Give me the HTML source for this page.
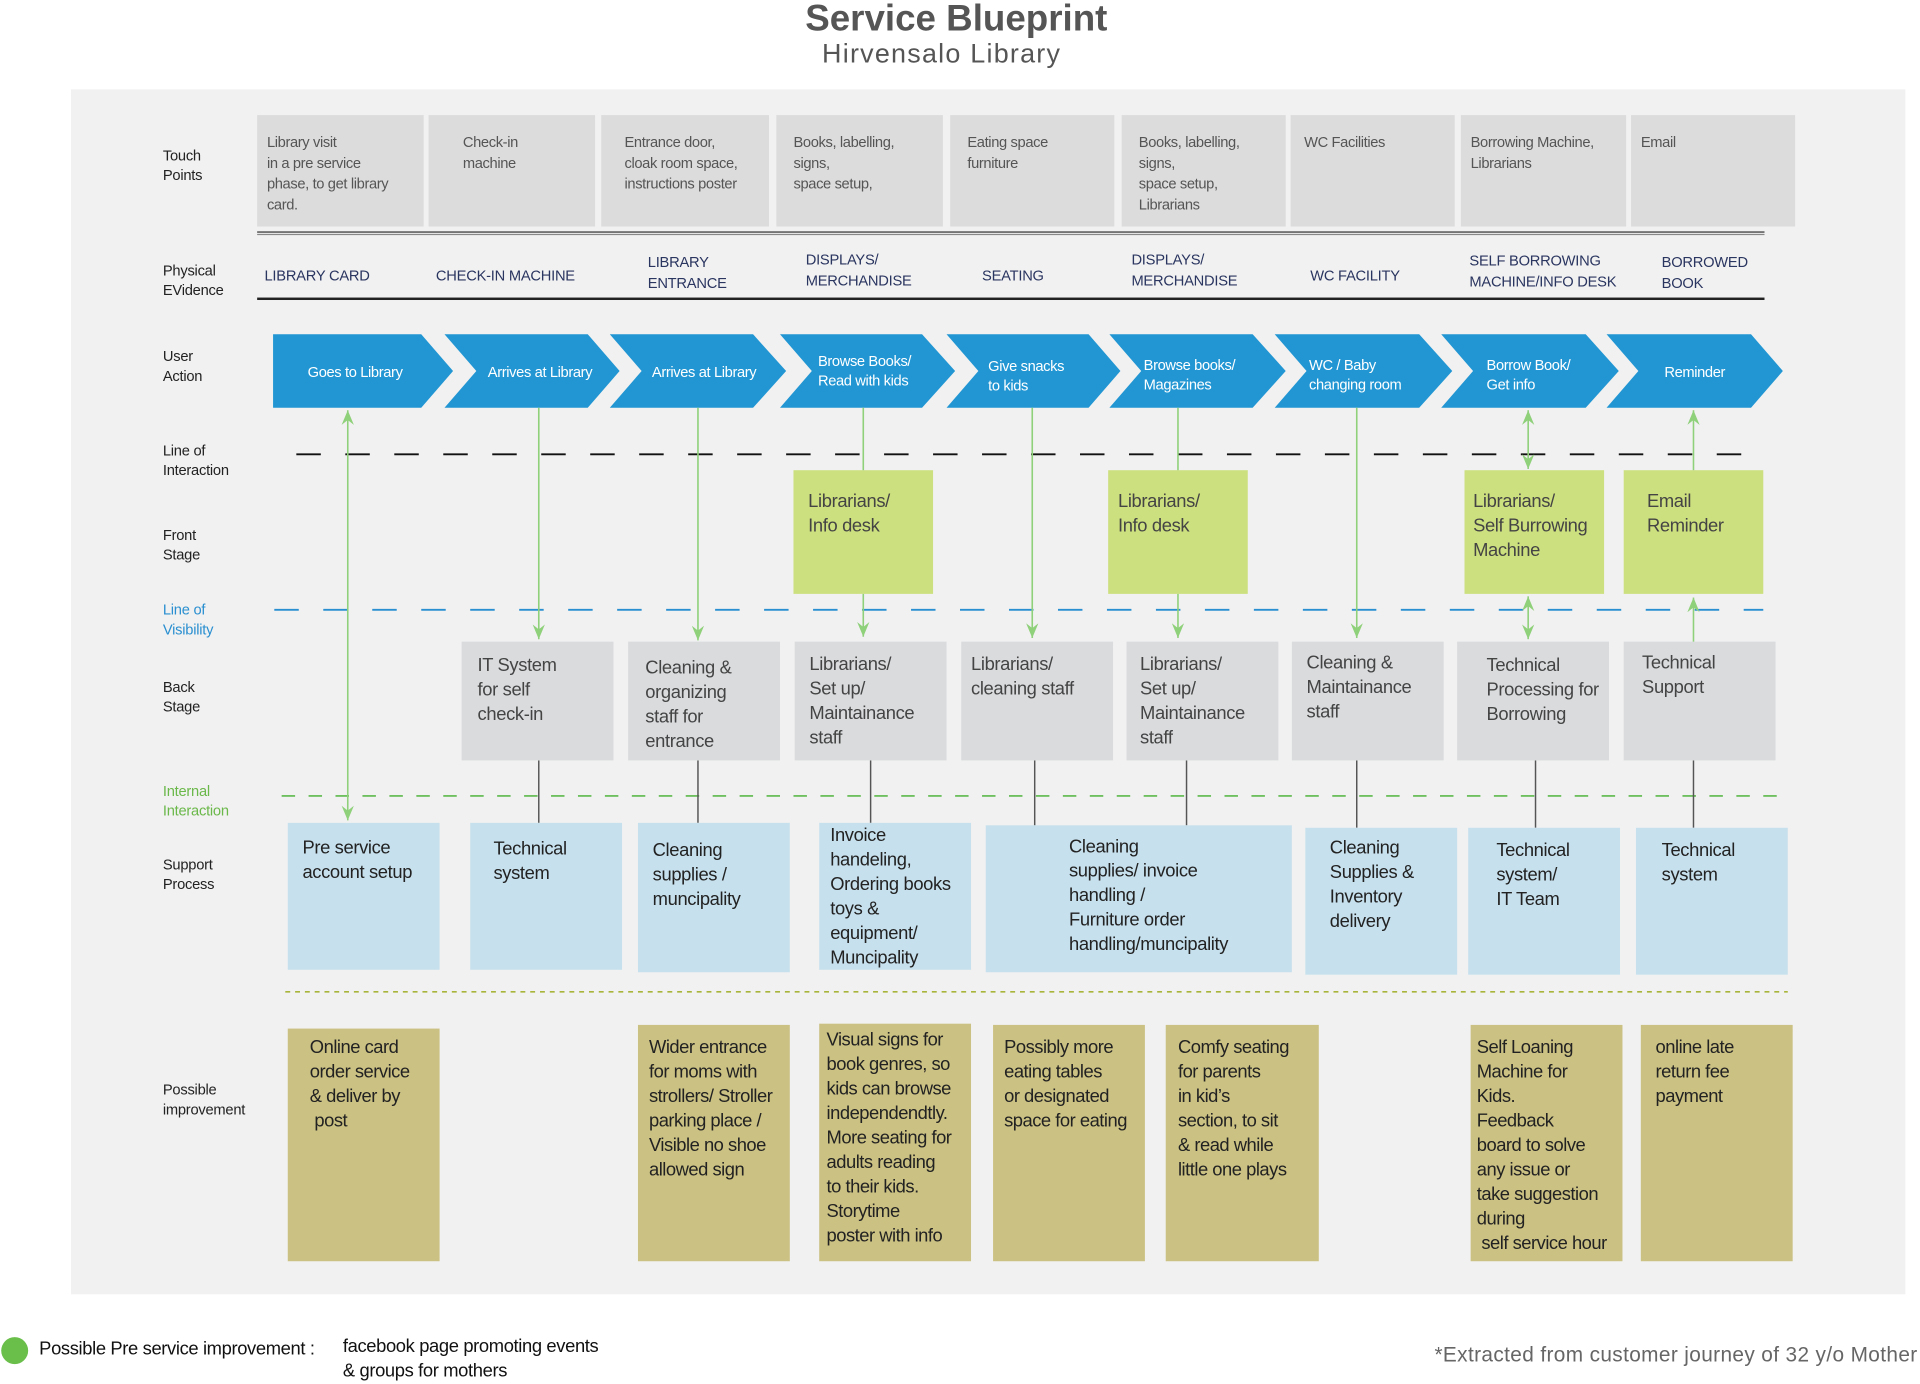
<!DOCTYPE html>
<html><head><meta charset="utf-8">
<style>
html,body{margin:0;padding:0;background:#fff;}
body{width:1920px;height:1383px;overflow:hidden;position:relative;}
#c{position:absolute;left:0;top:0;width:1568px;height:1130px;transform:scale(1.2245);transform-origin:0 0;font-family:"Liberation Sans",sans-serif;}
.a{position:absolute;}
.lab{position:absolute;left:133px;font-size:12px;line-height:16px;color:#222;letter-spacing:-0.2px;}
.tp{position:absolute;top:94px;height:91px;background:#dcdcdc;color:#555;font-size:12px;line-height:17px;padding:14px 0 0 8px;box-sizing:border-box;letter-spacing:-0.3px;}
.pe{position:absolute;color:#2a3560;font-size:12px;line-height:17px;letter-spacing:-0.2px;}
.fs{position:absolute;top:384px;height:101px;background:#cde07f;color:#444;font-size:15px;line-height:20px;padding:16px 0 0 12px;box-sizing:border-box;letter-spacing:-0.3px;}
.bs{position:absolute;top:524px;height:97px;background:#d9dbdd;color:#444;font-size:15px;line-height:20px;padding:9px 0 0 13px;box-sizing:border-box;letter-spacing:-0.3px;}
.sp{position:absolute;background:#c7e0ed;color:#222;font-size:15px;line-height:20px;box-sizing:border-box;letter-spacing:-0.3px;}
.im{position:absolute;background:#cbc183;color:#222;font-size:15px;line-height:20px;box-sizing:border-box;letter-spacing:-0.4px;}
</style></head><body><div id="c">
<div class="a" style="left:0;width:1568px;top:0;text-align:center;font-size:30px;font-weight:bold;color:#555;line-height:32px;"><span style="position:relative;left:-3px">Service Blueprint</span></div>
<div class="a" style="left:0;width:1538px;top:31px;text-align:center;font-size:22px;color:#555;letter-spacing:1px;">Hirvensalo Library</div>
<div class="a" style="left:58px;top:73px;width:1498px;height:984px;background:#f1f1f1;"></div>

<div class="lab" style="top:119px">Touch<br>Points</div>
<div class="lab" style="top:213px">Physical<br>EVidence</div>
<div class="lab" style="top:283px">User<br>Action</div>
<div class="lab" style="top:360px">Line of<br>Interaction</div>
<div class="lab" style="top:429px">Front<br>Stage</div>
<div class="lab" style="top:490px;color:#2a8fd0">Line of<br>Visibility</div>
<div class="lab" style="top:553px">Back<br>Stage</div>
<div class="lab" style="top:638px;color:#6bb84a">Internal<br>Interaction</div>
<div class="lab" style="top:698px">Support<br>Process</div>
<div class="lab" style="top:882px">Possible<br>improvement</div>

<div class="tp" style="left:210px;width:136px">Library visit<br>in a pre service<br>phase, to get library<br>card.</div>
<div class="tp" style="left:350px;width:136px;padding-left:28px">Check-in<br>machine</div>
<div class="tp" style="left:491px;width:137px;padding-left:19px">Entrance door,<br>cloak room space,<br>instructions poster</div>
<div class="tp" style="left:634px;width:136px;padding-left:14px">Books, labelling,<br>signs,<br>space setup,</div>
<div class="tp" style="left:776px;width:134px;padding-left:14px">Eating space<br>furniture</div>
<div class="tp" style="left:916px;width:134px;padding-left:14px">Books, labelling,<br>signs,<br>space setup,<br>Librarians</div>
<div class="tp" style="left:1054px;width:134px;padding-left:11px">WC Facilities</div>
<div class="tp" style="left:1193px;width:135px;padding-left:8px">Borrowing Machine,<br>Librarians</div>
<div class="tp" style="left:1332px;width:134px;padding-left:8px">Email</div>

<div class="a" style="left:210px;top:189px;width:1231px;height:1px;background:#333"></div>
<div class="a" style="left:210px;top:191px;width:1231px;height:1px;background:#888"></div>
<div class="a" style="left:210px;top:243px;width:1231px;height:2px;background:#222"></div>

<div class="pe" style="left:216px;top:217px">LIBRARY CARD</div>
<div class="pe" style="left:356px;top:217px">CHECK-IN MACHINE</div>
<div class="pe" style="left:529px;top:206px">LIBRARY<br>ENTRANCE</div>
<div class="pe" style="left:658px;top:204px">DISPLAYS/<br>MERCHANDISE</div>
<div class="pe" style="left:802px;top:217px">SEATING</div>
<div class="pe" style="left:924px;top:204px">DISPLAYS/<br>MERCHANDISE</div>
<div class="pe" style="left:1070px;top:217px">WC FACILITY</div>
<div class="pe" style="left:1200px;top:205px">SELF BORROWING<br>MACHINE/INFO DESK</div>
<div class="pe" style="left:1357px;top:206px">BORROWED<br>BOOK</div>

<svg class="a" style="left:0;top:0" width="1568" height="1130">
<g fill="#2196d3">
<polygon points="223,273 344,273 370,303 344,333 223,333"/>
<polygon points="363,273 480,273 506,303 480,333 363,333 389,303"/>
<polygon points="498,273 615,273 642,303 615,333 498,333 524,303"/>
<polygon points="637,273 753,273 780,303 753,333 637,333 663,303"/>
<polygon points="773,273 889,273 915,303 889,333 773,333 799,303"/>
<polygon points="906,273 1023,273 1050,303 1023,333 906,333 932,303"/>
<polygon points="1041,273 1159,273 1186,303 1159,333 1041,333 1067,303"/>
<polygon points="1177,273 1295,273 1322,303 1295,333 1177,333 1203,303"/>
<polygon points="1312,273 1430,273 1456,303 1430,333 1312,333 1338,303"/>
</g>
<g fill="#fff" font-family="Liberation Sans,sans-serif" font-size="12" letter-spacing="-0.3">
<text x="290" y="308" text-anchor="middle">Goes to Library</text>
<text x="441" y="308" text-anchor="middle">Arrives at Library</text>
<text x="575" y="308" text-anchor="middle">Arrives at Library</text>
<text x="668" y="299">Browse Books/</text><text x="668" y="315">Read with kids</text>
<text x="807" y="303">Give  snacks</text><text x="807" y="319">to kids</text>
<text x="934" y="302">Browse books/</text><text x="934" y="318">Magazines</text>
<text x="1069" y="302">WC / Baby</text><text x="1069" y="318">changing room</text>
<text x="1214" y="302">Borrow Book/</text><text x="1214" y="318">Get info</text>
<text x="1384" y="308" text-anchor="middle">Reminder</text>
</g>
<line x1="230" y1="371" x2="1440" y2="371" stroke="#111" stroke-width="1.5" stroke-dasharray="20,20" stroke-dashoffset="-12"/>
<line x1="224" y1="498" x2="1440" y2="498" stroke="#2a8fd0" stroke-width="1.5" stroke-dasharray="20,20"/>
<line x1="230" y1="650" x2="1452" y2="650" stroke="#5cb84a" stroke-width="1.3" stroke-dasharray="11,11"/>
<line x1="233" y1="810" x2="1460" y2="810" stroke="#a8b53a" stroke-width="1.3" stroke-dasharray="4,4"/>
<g stroke="#555" stroke-width="1.2">
<line x1="440" y1="621" x2="440" y2="672"/><line x1="570" y1="621" x2="570" y2="672"/>
<line x1="711" y1="621" x2="711" y2="672"/><line x1="845" y1="621" x2="845" y2="674"/>
<line x1="969" y1="621" x2="969" y2="674"/><line x1="1108" y1="621" x2="1108" y2="676"/>
<line x1="1254" y1="621" x2="1254" y2="676"/><line x1="1383" y1="621" x2="1383" y2="676"/>
</g>
</svg>

<div class="fs" style="left:648px;width:114px">Librarians/<br>Info desk</div>
<div class="fs" style="left:905px;width:114px;padding-left:8px">Librarians/<br>Info desk</div>
<div class="fs" style="left:1196px;width:114px;padding-left:7px">Librarians/<br>Self Burrowing<br>Machine</div>
<div class="fs" style="left:1326px;width:114px;padding-left:19px">Email<br>Reminder</div>

<div class="bs" style="left:377px;width:124px;padding-top:10px">IT System<br>for self<br>check-in</div>
<div class="bs" style="left:513px;width:124px;padding-left:14px;padding-top:12px">Cleaning &amp;<br>organizing<br>staff for<br>entrance</div>
<div class="bs" style="left:649px;width:124px;padding-left:12px">Librarians/<br>Set up/<br>Maintainance<br>staff</div>
<div class="bs" style="left:785px;width:124px;padding-left:8px">Librarians/<br>cleaning staff</div>
<div class="bs" style="left:920px;width:124px;padding-left:11px">Librarians/<br>Set up/<br>Maintainance<br>staff</div>
<div class="bs" style="left:1055px;width:124px;padding-left:12px;padding-top:8px">Cleaning &amp;<br>Maintainance<br>staff</div>
<div class="bs" style="left:1190px;width:124px;padding-left:24px;padding-top:10px">Technical<br>Processing for<br>Borrowing</div>
<div class="bs" style="left:1326px;width:124px;padding-left:15px;padding-top:8px">Technical<br>Support</div>

<div class="sp" style="left:235px;top:672px;width:124px;height:120px;padding:11px 0 0 12px">Pre service<br>account setup</div>
<div class="sp" style="left:384px;top:672px;width:124px;height:120px;padding:12px 0 0 19px">Technical<br>system</div>
<div class="sp" style="left:521px;top:672px;width:124px;height:122px;padding:13px 0 0 12px">Cleaning<br>supplies /<br>muncipality</div>
<div class="sp" style="left:669px;top:672px;width:124px;height:120px;padding:1px 0 0 9px">Invoice<br>handeling,<br>Ordering books<br>toys &amp;<br>equipment/<br>Muncipality</div>
<div class="sp" style="left:805px;top:674px;width:250px;height:120px;padding:8px 0 0 68px">Cleaning<br>supplies/ invoice<br>handling /<br>Furniture order<br>handling/muncipality</div>
<div class="sp" style="left:1066px;top:676px;width:124px;height:120px;padding:7px 0 0 20px">Cleaning<br>Supplies &amp;<br>Inventory<br>delivery</div>
<div class="sp" style="left:1199px;top:676px;width:124px;height:120px;padding:9px 0 0 23px">Technical<br>system/<br>IT Team</div>
<div class="sp" style="left:1336px;top:676px;width:124px;height:120px;padding:9px 0 0 21px">Technical<br>system</div>

<div class="im" style="left:235px;top:840px;width:124px;height:190px;padding:6px 0 0 18px">Online card<br>order service<br>&amp; deliver by<br>&nbsp;post</div>
<div class="im" style="left:521px;top:837px;width:124px;height:193px;padding:9px 0 0 9px">Wider entrance<br>for moms with<br>strollers/ Stroller<br>parking place /<br>Visible no shoe<br>allowed sign</div>
<div class="im" style="left:669px;top:836px;width:124px;height:194px;padding:4px 0 0 6px">Visual signs for<br>book genres, so<br>kids can browse<br>independendtly.<br>More seating for<br>adults reading<br>to their kids.<br>Storytime<br>poster with info</div>
<div class="im" style="left:811px;top:837px;width:124px;height:193px;padding:9px 0 0 9px">Possibly more<br>eating tables<br>or designated<br>space for eating</div>
<div class="im" style="left:952px;top:837px;width:125px;height:193px;padding:9px 0 0 10px">Comfy seating<br>for parents<br>in kid’s<br>section, to sit<br>&amp; read while<br>little one plays</div>
<div class="im" style="left:1201px;top:837px;width:124px;height:193px;padding:9px 0 0 5px">Self Loaning<br>Machine for<br>Kids.<br>Feedback<br>board to solve<br>any issue or<br>take suggestion<br>during<br>&nbsp;self service hour</div>
<div class="im" style="left:1340px;top:837px;width:124px;height:193px;padding:9px 0 0 12px">online late<br>return fee<br>payment</div>

<svg class="a" style="left:0;top:0" width="1568" height="1130">
<defs><marker id="ah" markerWidth="12" markerHeight="10" refX="12" refY="5" orient="auto-start-reverse" markerUnits="userSpaceOnUse" viewBox="0 0 12 10"><path d="M0,0 L12,5 L0,10 L4,5 Z" fill="#8fd07a"/></marker></defs>
<g stroke="#8fd07a" stroke-width="1.3" fill="none">
<line x1="284" y1="335" x2="284" y2="670" marker-start="url(#ah)" marker-end="url(#ah)"/>
<line x1="440" y1="333" x2="440" y2="522" marker-end="url(#ah)"/>
<line x1="570" y1="333" x2="570" y2="523" marker-end="url(#ah)"/>
<line x1="705" y1="333" x2="705" y2="384"/>
<line x1="705" y1="485" x2="705" y2="520" marker-end="url(#ah)"/>
<line x1="843" y1="333" x2="843" y2="521" marker-end="url(#ah)"/>
<line x1="962" y1="333" x2="962" y2="384"/>
<line x1="962" y1="485" x2="962" y2="521" marker-end="url(#ah)"/>
<line x1="1108" y1="333" x2="1108" y2="521" marker-end="url(#ah)"/>
<line x1="1248" y1="335" x2="1248" y2="383" marker-start="url(#ah)" marker-end="url(#ah)"/>
<line x1="1248" y1="487" x2="1248" y2="522" marker-start="url(#ah)" marker-end="url(#ah)"/>
<line x1="1383" y1="384" x2="1383" y2="335" marker-end="url(#ah)"/>
<line x1="1383" y1="524" x2="1383" y2="488" marker-end="url(#ah)"/>
</g>
<circle cx="12" cy="1103" r="11" fill="#6abf4b"/>
</svg>

<div class="a" style="left:32px;top:1093px;font-size:15px;color:#111;letter-spacing:-0.3px">Possible Pre service improvement :</div>
<div class="a" style="left:280px;top:1090px;font-size:15px;color:#111;line-height:20px;letter-spacing:-0.3px">facebook page promoting events<br>&amp; groups for mothers</div>
<div class="a" style="right:2px;top:1097px;font-size:17px;color:#666;letter-spacing:0.3px">*Extracted from customer journey of 32 y/o Mother</div>
</div></body></html>
